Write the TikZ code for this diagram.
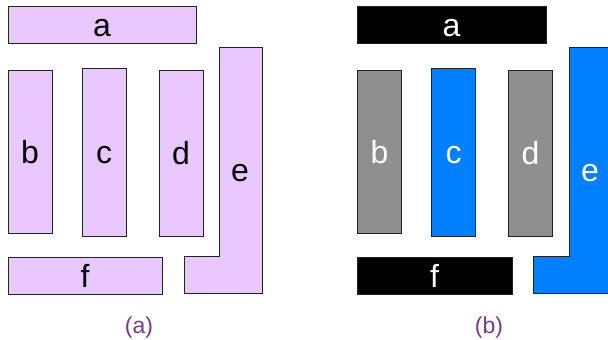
\documentclass[tikz,border=0pt]{standalone}
\usepackage{fontspec}
\setmainfont{Liberation Sans}
\definecolor{lav}{HTML}{E8C8FF}
\definecolor{blu}{HTML}{0080FF}
\definecolor{gry}{HTML}{8F8F8F}
\definecolor{cap}{HTML}{7A3A8A}
\definecolor{edge}{HTML}{222222}
\begin{document}
\begin{tikzpicture}[x=1pt,y=-1pt,
  box/.style={draw=edge,line width=0.9pt,inner sep=0pt,text height=23pt,text depth=0pt,font=\fontsize{32}{36}\selectfont},
  hbox/.style={box,minimum width=#1pt,minimum height=37pt},
  vbox/.style={box,minimum width=44pt},
  pA/.style={fill=lav,text=black},
  pBk/.style={fill=black,text=white},
  pBg/.style={fill=gry,text=white},
  pBb/.style={fill=blu,text=white},
  lbl/.style={font=\fontsize{32}{36}\selectfont,inner sep=0pt},
  captxt/.style={text=cap,font=\fontsize{23}{27}\selectfont}]
\useasboundingbox (0,0) rectangle (608,340);
\clip (0,0) rectangle (608,340);
% (a)
\node[hbox=188,pA] (aa) at (102,24.5) {a};
\node[vbox,pA,minimum height=163pt] (ab) at (30,151.5) {b};
\node[vbox,pA,minimum height=168pt] (ac) at (104,152) {c};
\node[vbox,pA,minimum height=166pt] (ad) at (181,153) {d};
\node[hbox=154,pA] (af) at (85,275.5) {f};
\draw[draw=edge,line width=0.9pt,fill=lav] (219,47) -- (262,47) -- (262,293) -- (184,293) -- (184,256) -- (219,256) -- cycle;
\node[lbl] (ae) at (240,173) {e};
\node[captxt] (capa) at (139,328) {(a)};
% (b)
\node[hbox=189,pBk] (ba) at (451.5,24.5) {a};
\node[vbox,pBg,minimum height=163pt] (bb) at (379.5,151.5) {b};
\node[vbox,pBb,minimum height=168pt] (bc) at (453.5,152) {c};
\node[vbox,pBg,minimum height=166pt] (bd) at (530.5,153) {d};
\node[hbox=155,pBk] (bf) at (434.5,275.5) {f};
\draw[draw=edge,line width=0.9pt,fill=blu] (569,47) -- (612,47) -- (612,293) -- (533,293) -- (533,256) -- (569,256) -- cycle;
\node[lbl,text=white] (be) at (590,173) {e};
\node[captxt] (capb) at (489,328) {(b)};
\end{tikzpicture}
\end{document}
